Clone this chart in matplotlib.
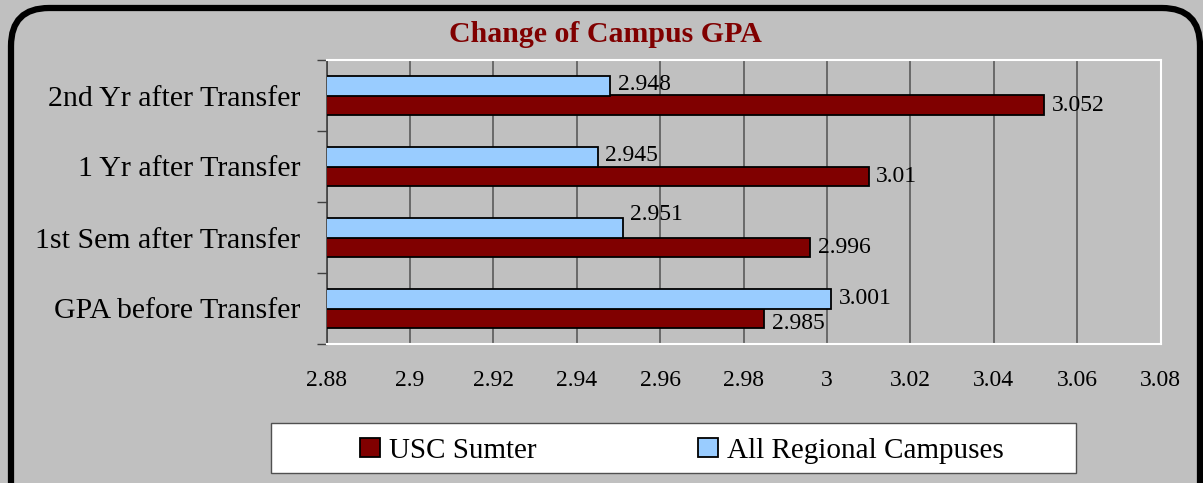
import numpy as np
import matplotlib
matplotlib.use('Agg')
import matplotlib.pyplot as plt
from matplotlib.patches import FancyBboxPatch, Rectangle, Patch
from matplotlib.transforms import IdentityTransform

plt.rcParams['font.family'] = ['Liberation Serif', 'DejaVu Serif']

# data
categories = ["GPA before Transfer", "1st Sem after Transfer", "1 Yr after Transfer", "2nd Yr after Transfer"]
usc_sumter = [2.985, 2.996, 3.01, 3.052]
all_regional = [3.001, 2.951, 2.945, 2.948]
series_names = ["USC Sumter", "All Regional Campuses"]
xticks = [2.88, 2.9, 2.92, 2.94, 2.96, 2.98, 3.0, 3.02, 3.04, 3.06, 3.08]
xtick_labels = ["2.88", "2.9", "2.92", "2.94", "2.96", "2.98", "3", "3.02", "3.04", "3.06", "3.08"]
value_labels_usc = ["2.985", "2.996", "3.01", "3.052"]
value_labels_all = ["3.001", "2.951", "2.945", "2.948"]

RED = "#800000"
BLUE = "#99ccff"
BG = "#c0c0c0"

W, H = 1203, 483
fig = plt.figure(figsize=(W / 100, H / 100), dpi=100, facecolor=BG)

# rounded black border (bottom runs off the image)
border = FancyBboxPatch((11, -40), W - 14, H - 8 + 40,
                        boxstyle="round,pad=0,rounding_size=38",
                        transform=IdentityTransform(), facecolor="none",
                        edgecolor="black", linewidth=4.5, zorder=5)
fig.patches.append(border)

ax = fig.add_axes([326.5 / W, 1 - 344 / H, 834 / W, 284 / H])
ax.set_facecolor(BG)

y = np.arange(len(categories))
h = 0.28
ax.barh(y - h / 2, usc_sumter, height=h, color=RED, edgecolor="black", linewidth=1.3, zorder=3)
ax.barh(y + h / 2, all_regional, height=h, color=BLUE, edgecolor="black", linewidth=1.3, zorder=3)

ax.set_xlim(2.88, 3.08)
ax.set_ylim(-0.5, 3.5)
ax.set_xticks(xticks)
ax.set_xticklabels(xtick_labels, fontsize=17)
ax.tick_params(axis='x', length=0, pad=19)
ax.set_yticks(y)
ax.set_yticklabels(categories, fontsize=21.5)
ax.tick_params(axis='y', which='major', length=0, pad=19)
ax.set_yticks(np.arange(-0.5, 4, 1), minor=True)
ax.tick_params(axis='y', which='minor', length=7.5, width=1, color="#404040", direction='out')

ax.grid(axis='x', color="#5a5a5a", linewidth=1.2, zorder=1)
ax.set_axisbelow(True)
for s in ["top", "right", "bottom"]:
    ax.spines[s].set_color("white")
    ax.spines[s].set_linewidth(1.5)
ax.spines["left"].set_color("#404040")
ax.spines["left"].set_linewidth(1.2)

# value labels (vertical nudges to avoid overlap, in points)
usc_dy = [-4, 0, 0, 0]
all_dy = [0, 9.5, 1, 1]
for i in range(len(categories)):
    ax.annotate(value_labels_usc[i], (usc_sumter[i], y[i] - h / 2), xytext=(5.5, usc_dy[i]),
                textcoords="offset points", va="center", ha="left", fontsize=17, zorder=4)
    ax.annotate(value_labels_all[i], (all_regional[i], y[i] + h / 2), xytext=(5.5, all_dy[i]),
                textcoords="offset points", va="center", ha="left", fontsize=17, zorder=4)

fig.text(605 / W, 1 - 34 / H, "Change of Campus GPA", ha="center", va="center",
         fontsize=21.5, fontweight="bold", color=RED)

# legend box
fig.patches.append(Rectangle((271, H - 473), 805, 50, transform=IdentityTransform(),
                             facecolor="white", edgecolor="#505050", linewidth=1, zorder=1))
handles = [Patch(facecolor=RED, edgecolor="black", linewidth=1.3),
           Patch(facecolor=BLUE, edgecolor="black", linewidth=1.3)]
fig.legend(handles, series_names, loc="center", bbox_to_anchor=(682 / W, 1 - 451 / H),
           ncol=2, frameon=False, fontsize=21, handlelength=0.68, handleheight=0.65,
           handletextpad=0.3, columnspacing=5.55)

fig.savefig("out.png", dpi=100, facecolor=BG)
